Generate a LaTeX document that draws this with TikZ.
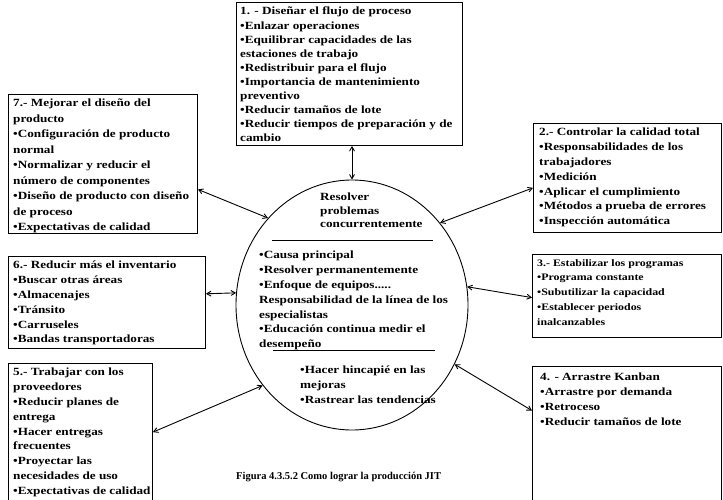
\documentclass[tikz,border=0pt]{standalone}
\usepackage{fontspec}
\setmainfont{Liberation Serif}
\newfontfamily\cajafont{Liberation Serif}[FakeStretch=1.2]
\usetikzlibrary{arrows,positioning,shapes.geometric}

\begin{document}
\begin{tikzpicture}[x=1pt, y=-1pt,
  caja/.style={draw, line width=0.9pt, rectangle, inner sep=0pt, anchor=north west},
  texto/.style={align=left, inner sep=0pt, font=\cajafont\bfseries\fontsize{11}{#1}\selectfont},
  texto/.default=14.8,
  flecha/.style={<->, >=angle 60, line width=0.9pt}]
\useasboundingbox (0,0) rectangle (723,499);

% cajas
\node [caja, minimum width=226pt, minimum height=143pt] (box1) at (236,2) {};
\node [texto=14.1, below right=5pt and 4pt of box1.north west] (t1) {1. - Diseñar el flujo de proceso\\
•Enlazar operaciones\\
•Equilibrar capacidades de las\\
estaciones de trabajo\\
•Redistribuir para el flujo\\
•Importancia de mantenimiento\\
preventivo\\
•Reducir tamaños de lote\\
•Reducir tiempos de preparación y de\\
cambio};

\node [caja, minimum width=189pt, minimum height=139pt] (box7) at (8,94) {};
\node [texto=15.5, below right=5pt and 5pt of box7.north west] (t7) {7.- Mejorar el diseño del\\
producto\\
•Configuración de producto\\
normal\\
•Normalizar y reducir el\\
número de componentes\\
•Diseño de producto con diseño\\
de proceso\\
•Expectativas de calidad};

\node [caja, minimum width=188pt, minimum height=109pt] (box2) at (533,123) {};
\node [texto, below right=5pt and 6pt of box2.north west] (t2) {2.- Controlar la calidad total\\
•Responsabilidades de los\\
trabajadores\\
•Medición\\
•Aplicar el cumplimiento\\
•Métodos a prueba de errores\\
•Inspección automática};

\node [caja, minimum width=197pt, minimum height=92pt] (box6) at (8,256) {};
\node [texto, below right=5pt and 5pt of box6.north west] (t6) {6.- Reducir más el inventario\\
•Buscar otras áreas\\
•Almacenajes\\
•Tránsito\\
•Carruseles\\
•Bandas transportadoras};

\node [caja, minimum width=189pt, minimum height=83pt] (box3) at (532,254) {};
\node [texto, font=\cajafont\bfseries\fontsize{9.9}{14.8}\selectfont,
  below right=5pt and 5pt of box3.north west] (t3) {3.- Estabilizar los programas\\
•Programa constante\\
•Subutilizar la capacidad\\
•Establecer periodos\\
inalcanzables};

\node [caja, minimum width=144pt, minimum height=150pt] (box5) at (8,363) {};
\node [texto, below right=5pt and 5pt of box5.north west] (t5) {5.- Trabajar con los\\
proveedores\\
•Reducir planes de\\
entrega\\
•Hacer entregas\\
frecuentes\\
•Proyectar las\\
necesidades de uso\\
•Expectativas de calidad};

\node [caja, minimum width=189pt, minimum height=150pt] (box4) at (532,366) {};
\node [texto, below right=7pt and 8pt of box4.north west] (t4) {4. - Arrastre Kanban\\
•Arrastre por demanda\\
•Retroceso\\
•Reducir tamaños de lote};

% centro
\node [draw, ellipse, line width=0.9pt, minimum width=232pt, minimum height=250pt] (resolver) at (352,305) {};
\node [texto=13.5, anchor=north west] (r1) at (320,193) {Resolver\\
problemas\\
concurrentemente};
\draw [line width=0.9pt] (272,240) -- (433,240);
\node [texto, anchor=north west] (r2) at (259,251) {•Causa principal\\
•Resolver permanentemente\\
•Enfoque de equipos.....\\
Responsabilidad de la línea de los\\
especialistas\\
•Educación continua medir el\\
desempeño};
\draw [line width=0.9pt] (273,350) -- (435,350);
\node [texto, anchor=north west] (r3) at (300,366) {•Hacer hincapié en las\\
mejoras\\
•Rastrear las tendencias};

% flechas
\draw [flecha] (box1.south -| resolver.north) -- (resolver.north);
\draw [flecha] (box7.-15) -- (resolver.134);
\draw [flecha] (resolver.43) -- (box2.186);
\draw [flecha] (box6.5) -- (resolver.174);
\draw [flecha] (resolver.9) -- (box3.181);
\draw [flecha] (box5.5) -- (resolver.222);
\draw [flecha] (resolver.330) -- (box4.162);

\node [anchor=west, inner sep=0pt, font=\bfseries\fontsize{10.5}{12}\selectfont] (caption) at (236,477) {Figura 4.3.5.2 Como lograr la producción JIT};

\end{tikzpicture}
\end{document}
